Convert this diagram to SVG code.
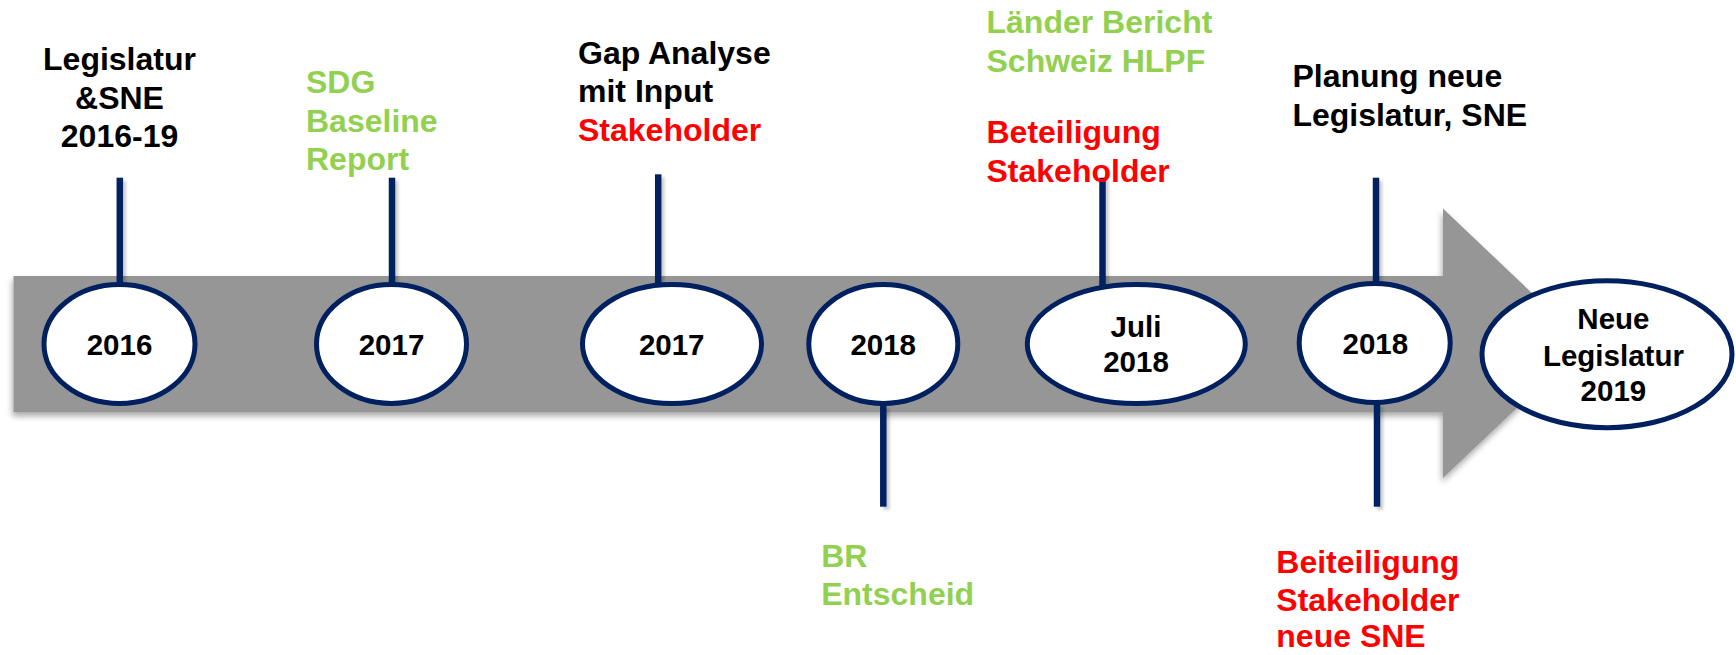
<svg xmlns="http://www.w3.org/2000/svg" width="1736" height="655" viewBox="0 0 1736 655">
<defs>
<filter id="barShadow" x="-5%" y="-10%" width="110%" height="130%">
<feDropShadow dx="-1" dy="4" stdDeviation="3" flood-color="#000" flood-opacity="0.35"/>
</filter>
<filter id="lineShadow" filterUnits="userSpaceOnUse" x="0" y="0" width="1736" height="655">
<feDropShadow dx="3" dy="3" stdDeviation="1.5" flood-color="#000" flood-opacity="0.2"/>
</filter>
<style>
.t{font-family:"Liberation Sans",Arial,sans-serif;font-weight:bold;font-size:32px}
.e{font-family:"Liberation Sans",Arial,sans-serif;font-weight:bold;font-size:29.5px;fill:#000;text-anchor:middle}
.blk{fill:#000}
.grn{fill:#92D050}
.red{fill:#FF0000}
.node ellipse{fill:#fff;stroke:#002060;stroke-width:5}
.conn line{stroke:#002060;stroke-width:6.5}
</style>
</defs>
<rect width="1736" height="655" fill="#fff"/>
<path id="timeline-arrow" d="M13.5,276 H1443 V208.5 L1585,343.5 L1443,478 V412 H13.5 Z" fill="#969696" filter="url(#barShadow)"/>
<g id="connectors" class="conn" filter="url(#lineShadow)">
<line x1="119.8" y1="177.7" x2="119.8" y2="283"/>
<line x1="392" y1="177.7" x2="392" y2="283"/>
<line x1="658.2" y1="174.3" x2="658.2" y2="283"/>
<line x1="1102.5" y1="177.7" x2="1102.5" y2="286"/>
<line x1="1376" y1="177.7" x2="1376" y2="282"/>
<line x1="883.3" y1="405" x2="883.3" y2="506.7"/>
<line x1="1377" y1="404" x2="1377" y2="506.7"/>
</g>
<g id="node-2016" class="node">
<ellipse cx="119.5" cy="344" rx="75.5" ry="59.5"/>
<text class="e" x="119.5" y="355">2016</text>
</g>
<g id="node-2017a" class="node">
<ellipse cx="391.5" cy="344" rx="75" ry="59.5"/>
<text class="e" x="391.5" y="355">2017</text>
</g>
<g id="node-2017b" class="node">
<ellipse cx="672" cy="344" rx="89.5" ry="59.5"/>
<text class="e" x="671.7" y="355">2017</text>
</g>
<g id="node-2018a" class="node">
<ellipse cx="883.3" cy="344" rx="74.5" ry="59.5"/>
<text class="e" x="883.2" y="355">2018</text>
</g>
<g id="node-juli2018" class="node">
<ellipse cx="1136.3" cy="344" rx="109" ry="59.5"/>
<text class="e" x="1136" y="336.7">Juli</text>
<text class="e" x="1136" y="371.7">2018</text>
</g>
<g id="node-2018b" class="node">
<ellipse cx="1374.7" cy="343" rx="75.5" ry="59.5"/>
<text class="e" x="1375.3" y="354">2018</text>
</g>
<g id="node-2019" class="node">
<ellipse cx="1607" cy="354.2" rx="125" ry="73.5"/>
<text class="e" x="1613.4" y="329.3">Neue</text>
<text class="e" x="1613.4" y="365.7">Legislatur</text>
<text class="e" x="1613.4" y="400.7">2019</text>
</g>
<g id="label-legislatur" class="t blk" text-anchor="middle">
<text x="119.5" y="70">Legislatur</text>
<text x="119.5" y="108.7">&amp;SNE</text>
<text x="119.5" y="146.7">2016-19</text>
</g>
<g id="label-sdg" class="t grn">
<text x="306" y="93.3">SDG</text>
<text x="306" y="132">Baseline</text>
<text x="306" y="170">Report</text>
</g>
<g id="label-gap" class="t">
<text class="blk" x="578" y="64">Gap Analyse</text>
<text class="blk" x="578" y="102">mit Input</text>
<text class="red" x="578" y="141">Stakeholder</text>
</g>
<g id="label-br" class="t grn">
<text x="821.2" y="566.7">BR</text>
<text x="821.2" y="605">Entscheid</text>
</g>
<g id="label-laender" class="t">
<text class="grn" x="986.5" y="33.3">Länder Bericht</text>
<text class="grn" x="986.5" y="71.7">Schweiz HLPF</text>
<text class="red" x="986.5" y="143.3">Beteiligung</text>
<text class="red" x="986.5" y="181.7">Stakeholder</text>
</g>
<g id="label-planung" class="t blk">
<text x="1292.4" y="86.7">Planung neue</text>
<text x="1292.4" y="126">Legislatur, SNE</text>
</g>
<g id="label-beiteiligung" class="t red">
<text x="1276.3" y="573">Beiteiligung</text>
<text x="1276.3" y="610.5">Stakeholder</text>
<text x="1276.3" y="647">neue SNE</text>
</g>
</svg>
